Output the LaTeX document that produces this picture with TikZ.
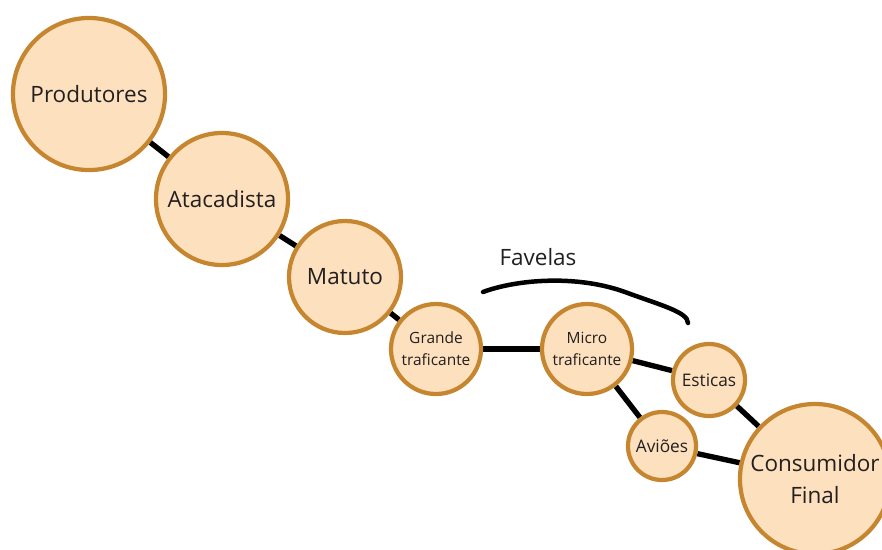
\documentclass[tikz,border=0pt]{standalone}
\usepackage{fontspec}
\setmainfont{Open Sans}
\usetikzlibrary{backgrounds}
\definecolor{peachfill}{RGB}{253,224,190}
\definecolor{peachline}{RGB}{198,134,48}
\definecolor{textgray}{RGB}{35,31,32}

\begin{document}
\begin{tikzpicture}[x=0.025cm, y=-0.025cm,
    actor/.style={circle, draw=peachline, line width=3pt, fill=peachfill, inner sep=0pt, align=center, text=textgray},
    bigtext/.style={font=\fontsize{16}{22.5}\selectfont},
    midtext/.style={font=\fontsize{12.3}{16}\selectfont},
    smalltext/.style={font=\fontsize{11}{15.5}\selectfont},
    link/.style={line width=3.8pt, black}
  ]
    \useasboundingbox (0,0) rectangle (882,549);

    \node[actor, bigtext, minimum size=3.8cm] (prod) at (89,94) {Produtores};
    \node[actor, bigtext, minimum size=3.3cm] (atac) at (222,199) {Atacadista};
    \node[actor, bigtext, minimum size=2.8cm] (matuto) at (345,277) {Matuto};
    \node[actor, smalltext, minimum size=2.25cm] (grande) at (436,349) {Grande\\traficante};
    \node[actor, smalltext, minimum size=2.25cm] (micro) at (587,349) {Micro\\traficante};
    \node[actor, midtext, minimum size=1.8cm] (esticas) at (709,380) {Esticas};
    \node[actor, midtext, minimum size=1.7cm] (avioes) at (662,446) {Aviões};
    \node[actor, bigtext, minimum size=3.75cm] (consumidor) at (815,479) {Consumidor\\Final};

    \begin{scope}[on background layer]
      \draw[link] (prod) -- (atac);
      \draw[link] (atac) -- (matuto);
      \draw[link] (matuto) -- (grande);
      \draw[link] (grande) -- (micro);
      \draw[link] (micro) -- (esticas);
      \draw[link] (micro) -- (avioes);
      \draw[link] (esticas) -- (consumidor);
      \draw[link] (avioes) -- (consumidor);
    \end{scope}

    % favelas bracket
    \node[bigtext, text=textgray] (favelas) at (538,257) {Favelas};
    \draw[line width=3.2pt, line cap=round] (483,292) .. controls (515,280) and (575,274) .. (625,292)
      .. controls (660,305) and (688,312) .. (688,323);
  \end{tikzpicture}
\end{document}
